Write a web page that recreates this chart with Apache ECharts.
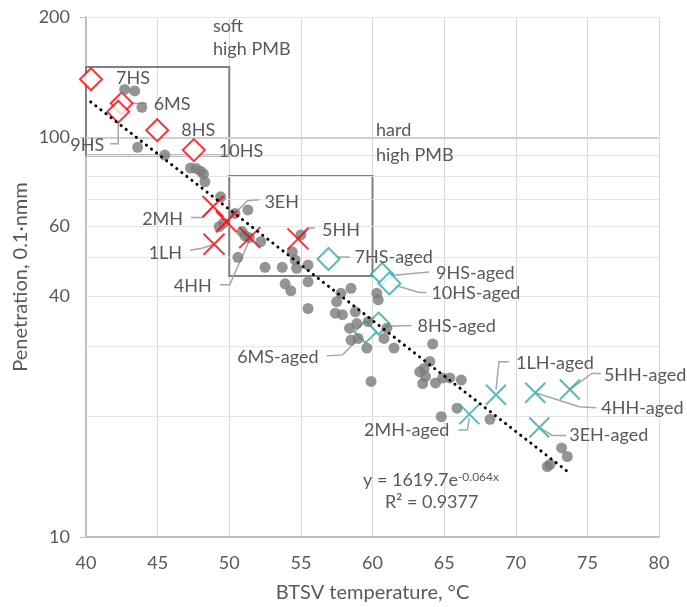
<!DOCTYPE html>
<html><head><meta charset="utf-8">
<script src="https://cdn.jsdelivr.net/npm/echarts@6/dist/echarts.min.js"></script>
<style>html,body{margin:0;padding:0;background:#fff}#c{width:687px;height:607px}</style>
</head><body><div id="c"></div>
<script>
// ---------- data ----------
const greyX = [42.7, 43.4, 43.9, 43.6, 45.5, 47.3, 47.7, 48.0, 48.2, 48.3, 49.4, 50.4, 51.3, 49.3, 49.6, 50.9, 51.1, 51.4, 52.2, 50.6, 52.5, 53.7, 54.4, 54.6, 54.7, 55.5, 55.0, 55.5, 53.9, 54.3, 55.5, 57.5, 57.8, 58.5, 57.4, 57.9, 58.8, 60.3, 60.4, 58.4, 58.9, 58.5, 59.0, 59.6, 59.7, 60.8, 61.0, 61.5, 59.9, 64.2, 64.0, 63.3, 63.6, 63.7, 63.5, 64.4, 64.9, 65.4, 66.2, 64.8, 65.9, 68.2, 73.2, 73.6, 72.2, 72.4];
const greyY = [131.8, 130.6, 118.9, 94.4, 90.3, 83.8, 83.5, 82.3, 81.0, 77.4, 71.0, 64.5, 65.8, 59.8, 61.0, 58.1, 56.7, 56.1, 54.8, 50.1, 47.3, 47.3, 51.7, 49.3, 47.0, 47.9, 57.0, 43.5, 43.0, 41.3, 37.3, 38.8, 40.7, 41.9, 36.3, 36.0, 36.6, 40.7, 39.2, 33.3, 34.2, 31.1, 31.4, 29.7, 34.6, 31.4, 33.3, 29.7, 24.5, 30.4, 27.5, 25.9, 26.4, 25.2, 24.2, 24.3, 25.0, 25.0, 24.7, 20.0, 21.0, 19.7, 16.7, 15.9, 15.0, 15.2];

const softNames = ['7HS', '6MS', '9HS', '8HS', '10HS'];
const softX = [40.35, 42.49, 42.25, 44.97, 47.53];
const softY = [139.7, 121.6, 115.9, 104.2, 92.9];

const hardNames = ['2MH', '1LH', '3EH', '4HH', '5HH'];
const hardX = [48.87, 48.94, 49.8, 51.43, 54.8];
const hardY = [67.1, 54.0, 61.5, 56.1, 55.7];

const softAgedNames = ['7HS-aged', '9HS-aged', '10HS-aged', '8HS-aged', '6MS-aged'];
const softAgedX = [56.93, 60.67, 61.18, 60.42, 59.51];
const softAgedY = [49.6, 45.5, 43.1, 34.2, 32.6];

const hardAgedNames = ['2MH-aged', '1LH-aged', '4HH-aged', '5HH-aged', '3EH-aged'];
const hardAgedX = [66.76, 68.62, 71.36, 73.78, 71.64];
const hardAgedY = [20.3, 22.7, 22.96, 23.4, 18.8];

const trendX = [40.33, 73.7];
const trendY = [122.6, 14.5];

const yTickLabels = [10, 40, 60, 100, 200];
const yGridValues = [20, 30, 40, 50, 60, 70, 80, 90, 100, 200];

const softBoxX = [40, 50], softBoxY = [90, 150];
const hardBoxX = [50, 60], hardBoxY = [45, 80];

// ---------- styles (label placement, pixels relative to point) ----------
const labelCfg = {
  '7HS': {t: [25, -1], a: 'left'},
  '6MS': {t: [32, 1], a: 'left', l: [[5, 0], [25, 0]]},
  '9HS': {t: [-14, 33], a: 'right', l: [[0, 3], [0, 32], [-8, 32]]},
  '8HS': {t: [24, 0], a: 'left'},
  '10HS': {t: [25, 1], a: 'left'},
  '2MH': {t: [-30, 13], a: 'right', l: [[-22, 11], [-10, 11], [0, 0]]},
  '1LH': {t: [-32, 9], a: 'right', l: [[-24, 6], [-12, 4], [0, 0]]},
  '3EH': {t: [38, -20], a: 'left', l: [[33, -22], [21, -21], [0, 0]]},
  '4HH': {t: [-38, 49], a: 'right', l: [[-30, 47], [-20, 47], [0, 2]]},
  '5HH': {t: [24, -9], a: 'left', l: [[17, -11], [9, -11], [0, 0]]},
  '7HS-aged': {t: [26, -2], a: 'left', l: [[5, -2], [21, -2]]},
  '9HS-aged': {t: [54, -1], a: 'left', l: [[4, 2], [47, -2]]},
  '10HS-aged': {t: [42, 10], a: 'left', l: [[3, 1], [30, 9], [37, 9]]},
  '8HS-aged': {t: [39, 3], a: 'left', l: [[4, 3], [33, 2]]},
  '6MS-aged': {t: [-47, 25], a: 'right', l: [[-39, 24], [-23, 23], [0, 0]]},
  '1LH-aged': {t: [20, -32], a: 'left', l: [[13, -33], [3, -33], [0, -5]]},
  '5HH-aged': {t: [34, -14], a: 'left', l: [[31, -16], [22, -16], [0, 0]]},
  '4HH-aged': {t: [66, 15], a: 'left', l: [[61, 15], [44, 14], [0, 0]]},
  '3EH-aged': {t: [30, 8], a: 'left', l: [[27, 8], [13, 8], [0, 0]]},
  '2MH-aged': {t: [-20, 16], a: 'right', l: [[-11, 16], [-2, 16], [0, 4]]}
};

const FONT = 'Lato';
const TXT = '#595959';
const RED = '#ff0000';
const TEAL = '#31a9a9';
const XPATH = 'path://M0,0L20,20M20,0L0,20';

const pairs = (xs, ys) => xs.map((x, i) => [x, ys[i]]);

const gridLineData = yGridValues.map(v => ({
  yAxis: v,
  lineStyle: {color: v === 100 ? '#d0d0d0' : '#e6e6e6', width: v === 100 ? 2 : 1, type: 'solid'},
  label: {show: yTickLabels.includes(v)}
}));
gridLineData.push({yAxis: 10, lineStyle: {color: 'rgba(0,0,0,0)', width: 0}, label: {show: true}});

const option = {
  animation: false,
  backgroundColor: '#fff',
  textStyle: {fontFamily: FONT},
  grid: {left: 86, right: 28, top: 17, bottom: 70, containLabel: false, outerBoundsMode: 'none'},
  xAxis: {
    type: 'value', min: 40, max: 80, interval: 5,
    name: 'BTSV temperature, °C', nameLocation: 'middle', nameGap: 46,
    nameTextStyle: {color: TXT, fontSize: 20, fontFamily: FONT},
    axisLine: {lineStyle: {color: '#bfbfbf', width: 2}},
    axisTick: {show: false},
    axisLabel: {color: TXT, fontSize: 18, fontFamily: FONT, margin: 17},
    splitLine: {show: true, lineStyle: {color: '#d9d9d9', width: 1}}
  },
  yAxis: {
    type: 'log', logBase: 10, min: 10, max: 200,
    name: 'Penetration, 0.1·nmm', nameLocation: 'middle', nameGap: 55,
    nameTextStyle: {color: TXT, fontSize: 20, fontFamily: FONT},
    axisLine: {show: true, lineStyle: {color: '#bfbfbf', width: 2}},
    axisTick: {show: true, length: 6, lineStyle: {color: '#bfbfbf'}},
    axisLabel: {show: false},
    splitLine: {show: false}
  },
  series: [
    {
      name: 'grid', type: 'scatter', data: [], silent: true,
      markLine: {
        silent: true, symbol: ['none', 'none'], z: 1, animation: false,
        label: {position: 'start', distance: 16, color: TXT, fontSize: 18, fontFamily: FONT,
          formatter: p => String(p.value)},
        data: gridLineData
      },
      markArea: {
        silent: true, z: 1,
        itemStyle: {color: 'rgba(0,0,0,0)', borderColor: '#808080', borderWidth: 2},
        label: {show: false},
        data: [
          [{xAxis: softBoxX[0], yAxis: softBoxY[1]}, {xAxis: softBoxX[1], yAxis: softBoxY[0]}],
          [{xAxis: hardBoxX[0], yAxis: hardBoxY[1]}, {xAxis: hardBoxX[1], yAxis: hardBoxY[0]}]
        ]
      }
    },
    {
      name: 'soft', type: 'scatter', symbol: 'diamond', symbolSize: 22, z: 3,
      itemStyle: {color: '#fff', borderColor: RED, borderWidth: 2},
      data: pairs(softX, softY)
    },
    {
      name: 'soft aged', type: 'scatter', symbol: 'diamond', symbolSize: 22, z: 3,
      itemStyle: {color: '#fff', borderColor: TEAL, borderWidth: 2},
      data: pairs(softAgedX, softAgedY)
    },
    {
      name: 'all', type: 'scatter', symbol: 'circle', symbolSize: 11, z: 4,
      itemStyle: {color: '#7a7a7a'},
      data: pairs(greyX, greyY)
    },
    {
      name: 'hard', type: 'scatter', symbol: XPATH, symbolSize: 21, z: 5,
      itemStyle: {color: 'none', borderColor: RED, borderWidth: 2},
      data: pairs(hardX, hardY)
    },
    {
      name: 'hard aged', type: 'scatter', symbol: XPATH, symbolSize: 20, z: 5,
      itemStyle: {color: 'none', borderColor: TEAL, borderWidth: 2},
      data: pairs(hardAgedX, hardAgedY)
    },
    {
      name: 'trend', type: 'line', symbol: 'none', z: 6, silent: true,
      lineStyle: {color: '#000', width: 3, type: [0.1, 6.3], cap: 'round'},
      data: pairs(trendX, trendY)
    }
  ]
};

const chart = echarts.init(document.getElementById('c'), null, {renderer: 'canvas'});
chart.setOption(option);

const gfx = [];
function addLabels(names, xs, ys) {
  names.forEach((n, i) => {
    const p = chart.convertToPixel({gridIndex: 0}, [xs[i], ys[i]]);
    const c = labelCfg[n];
    if (c.l) {
      gfx.push({
        type: 'polyline', z: 2, silent: true,
        shape: {points: c.l.map(q => [p[0] + q[0], p[1] + q[1]])},
        style: {stroke: '#a6a6a6', lineWidth: 1.5, fill: null}
      });
    }
    gfx.push({
      type: 'text', z: 10, silent: true, x: p[0] + c.t[0], y: p[1] + c.t[1],
      style: {text: n, fill: TXT, font: '18px ' + FONT, align: c.a, verticalAlign: 'middle'}
    });
  });
}
addLabels(softNames, softX, softY);
addLabels(hardNames, hardX, hardY);
addLabels(softAgedNames, softAgedX, softAgedY);
addLabels(hardAgedNames, hardAgedX, hardAgedY);

gfx.push({type: 'text', z: 10, silent: true, x: 213, y: 38,
  style: {text: 'soft\nhigh PMB', fill: TXT, font: '18px ' + FONT, lineHeight: 23, align: 'left', verticalAlign: 'middle'}});
gfx.push({type: 'text', z: 10, silent: true, x: 376, y: 143,
  style: {text: 'hard\nhigh PMB', fill: TXT, font: '18px ' + FONT, lineHeight: 25, align: 'left', verticalAlign: 'middle'}});
gfx.push({type: 'text', z: 10, silent: true, x: 363, y: 480,
  style: {text: '{a|y = 1619.7e}{b|-0.064x}', verticalAlign: 'middle', align: 'left',
    rich: {a: {font: '18px ' + FONT, fill: TXT, verticalAlign: 'bottom'}, b: {font: '12px ' + FONT, fill: TXT, verticalAlign: 'top'}}}});
gfx.push({type: 'text', z: 10, silent: true, x: 385, y: 502,
  style: {text: 'R² = 0.9377', fill: TXT, font: '18px ' + FONT, align: 'left', verticalAlign: 'middle'}});

chart.setOption({graphic: gfx});
</script>
</body></html>
